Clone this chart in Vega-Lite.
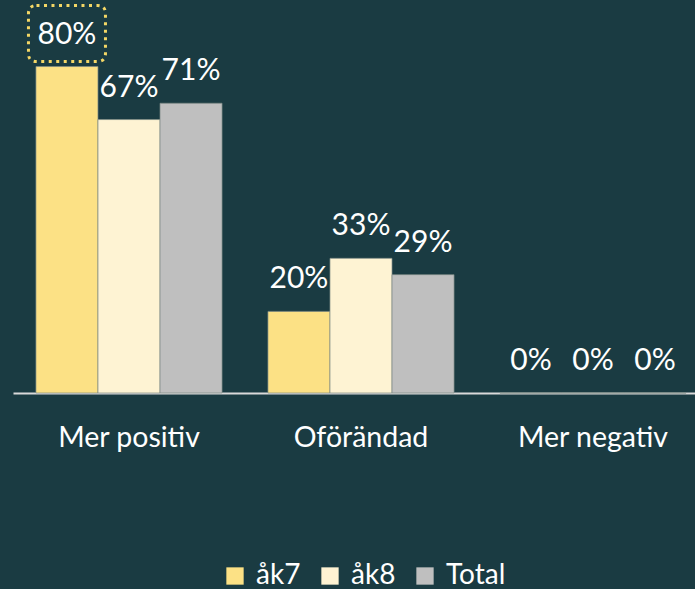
{
  "$schema": "https://vega.github.io/schema/vega-lite/v6.json",
  "width": 682,
  "height": 393,
  "autosize": "none",
  "padding": {"left": 13, "top": 0, "right": 0, "bottom": 196},
  "background": "#1a3b42",
  "config": {"view": {"stroke": null}, "font": "Lato"},
  "data": {
    "values": [
      {"category": "Mer positiv", "series": "åk7", "value": 0.80},
      {"category": "Mer positiv", "series": "åk8", "value": 0.67},
      {"category": "Mer positiv", "series": "Total", "value": 0.71},
      {"category": "Oförändad", "series": "åk7", "value": 0.20},
      {"category": "Oförändad", "series": "åk8", "value": 0.33},
      {"category": "Oförändad", "series": "Total", "value": 0.29},
      {"category": "Mer negativ", "series": "åk7", "value": 0.0},
      {"category": "Mer negativ", "series": "åk8", "value": 0.0},
      {"category": "Mer negativ", "series": "Total", "value": 0.0}
    ]
  },
  "encoding": {
    "x": {
      "field": "category",
      "type": "nominal",
      "sort": ["Mer positiv", "Oförändad", "Mer negativ"],
      "scale": {"range": [0, 696], "paddingInner": 0, "paddingOuter": 0},
      "axis": {
        "title": null,
        "labelAngle": 0,
        "ticks": false,
        "grid": false,
        "domainColor": "#d9d9d9",
        "domainWidth": 2,
        "labelColor": "#ffffff",
        "labelFontSize": 28.5,
        "labelFont": "Lato",
        "labelPadding": 30
      }
    },
    "xOffset": {
      "field": "series",
      "type": "nominal",
      "sort": ["åk7", "åk8", "Total"],
      "scale": {"paddingInner": 0, "paddingOuter": 0.37}
    },
    "y": {
      "field": "value",
      "type": "quantitative",
      "scale": {"domain": [0, 0.963]},
      "axis": null
    }
  },
  "layer": [
    {
      "mark": {"type": "bar", "stroke": "#7c8a85", "strokeWidth": 0.7},
      "encoding": {
        "color": {
          "field": "series",
          "type": "nominal",
          "sort": ["åk7", "åk8", "Total"],
          "scale": {"domain": ["åk7", "åk8", "Total"], "range": ["#FCE185", "#FEF3D3", "#BFBFBF"]},
          "legend": {
            "title": null,
            "orient": "none",
            "direction": "horizontal",
            "legendX": 208,
            "legendY": 562,
            "symbolType": "square",
            "symbolSize": 300,
            "symbolStrokeWidth": 0,
            "symbolOpacity": 1,
            "labelFontSize": 28,
            "labelFont": "Lato",
            "labelColor": "#ffffff",
            "labelOffset": 7,
            "columnPadding": 15
          }
        }
      }
    },
    {
      "mark": {"type": "text", "dy": -23, "baseline": "alphabetic", "fontSize": 30, "color": "#ffffff", "font": "Lato"},
      "encoding": {"text": {"field": "value", "type": "quantitative", "format": ".0%"}}
    },
    {
      "transform": [{"filter": "datum.category === 'Mer positiv' && datum.series === 'åk7'"}],
      "mark": {
        "type": "point",
        "filled": false,
        "fill": null,
        "opacity": 1,
        "stroke": "#F4D766",
        "strokeWidth": 3,
        "strokeDash": [3, 4.5],
        "size": 5929,
        "yOffset": -33,
        "shape": "M -0.792 -0.727 L 0.792 -0.727 Q 1 -0.727 1 -0.519 L 1 0.519 Q 1 0.727 0.792 0.727 L -0.792 0.727 Q -1 0.727 -1 0.519 L -1 -0.519 Q -1 -0.727 -0.792 -0.727 Z"
      },
      "encoding": {}
    }
  ]
}
